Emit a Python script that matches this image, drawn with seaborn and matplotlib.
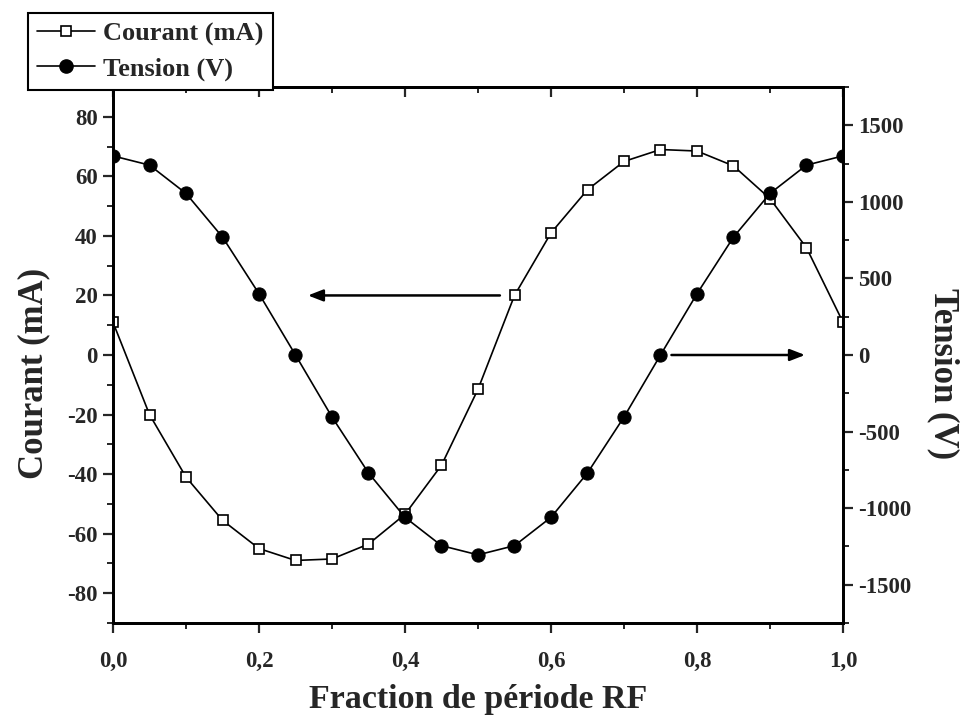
import numpy as np
import pandas as pd
import matplotlib
matplotlib.use("Agg")
import matplotlib.pyplot as plt
from matplotlib.ticker import MultipleLocator, FuncFormatter
from matplotlib.lines import Line2D
import seaborn as sns

# ---- data ----
fraction = [0.00, 0.05, 0.10, 0.15, 0.20, 0.25, 0.30, 0.35, 0.40, 0.45, 0.50,
            0.55, 0.60, 0.65, 0.70, 0.75, 0.80, 0.85, 0.90, 0.95, 1.00]
courant_mA = [11, -20, -41, -55.5, -65, -69, -68.5, -63.5, -53.5, -37, -11.5,
              20, 41, 55.5, 65, 69, 68.5, 63.5, 52.5, 36, 11]
tension_V = [1300, 1240, 1055, 770, 400, 0, -405, -770, -1060, -1245, -1305,
             -1245, -1060, -770, -405, 0, 400, 770, 1055, 1240, 1300]
series_labels = ["Courant (mA)", "Tension (V)"]
x_label = "Fraction de période RF"
y_left_label = "Courant (mA)"
y_right_label = "Tension (V)"

df = pd.DataFrame({"frac": fraction, "courant": courant_mA, "tension": tension_V})

sns.set_style("ticks")
plt.rcParams["font.family"] = ["Liberation Serif", "DejaVu Serif"]
plt.rcParams["font.weight"] = "bold"
plt.rcParams["axes.unicode_minus"] = False

fig = plt.figure(figsize=(9.62, 7.2), dpi=100)
ax = fig.add_axes([113/962, 1-623/720, (843-113)/962, (623-87)/720])
ax2 = ax.twinx()

lw = 1.2
sns.lineplot(data=df, x="frac", y="courant", ax=ax, color="black", lw=lw,
             marker="s", markersize=7.5, markerfacecolor="white",
             markeredgecolor="black", markeredgewidth=1.2, legend=False)
sns.lineplot(data=df, x="frac", y="tension", ax=ax2, color="black", lw=lw,
             marker="o", markersize=9.5, markerfacecolor="black",
             markeredgecolor="black", legend=False)

ax.set_xlim(0, 1)
ax.set_ylim(-90, 90)
ax2.set_ylim(-1750, 1750)

comma = FuncFormatter(lambda v, p: f"{v:.1f}".replace(".", ","))
ax.xaxis.set_major_locator(MultipleLocator(0.2))
ax.xaxis.set_minor_locator(MultipleLocator(0.1))
ax.xaxis.set_major_formatter(comma)
ax.yaxis.set_major_locator(MultipleLocator(20))
ax.yaxis.set_minor_locator(MultipleLocator(10))
ax.yaxis.set_major_formatter(FuncFormatter(lambda v, p: f"{int(round(v))}"))
ax2.yaxis.set_major_locator(MultipleLocator(500))
ax2.yaxis.set_minor_locator(MultipleLocator(250))
ax2.yaxis.set_major_formatter(FuncFormatter(lambda v, p: f"{int(round(v))}"))

tick_fs = 16.5
ax.tick_params(axis="x", which="both", direction="out", bottom=True, top=False,
               labelsize=tick_fs, pad=13)
ax.tick_params(axis="x", which="major", length=7, width=1.6)
ax.tick_params(axis="x", which="minor", length=4, width=1.4)
ax.tick_params(axis="y", which="both", direction="out", left=True, right=False,
               labelsize=tick_fs, pad=4)
ax.tick_params(axis="y", which="major", length=7, width=1.6)
ax.tick_params(axis="y", which="minor", length=4, width=1.4)
ax2.tick_params(axis="y", which="both", direction="out", right=True,
                labelsize=tick_fs, pad=4)
ax2.tick_params(axis="y", which="major", length=7, width=1.6)
ax2.tick_params(axis="y", which="minor", length=4, width=1.4)

# top inward ticks
sec = ax.secondary_xaxis("top")
sec.xaxis.set_major_locator(MultipleLocator(0.2))
sec.xaxis.set_minor_locator(MultipleLocator(0.1))
sec.tick_params(axis="x", which="both", direction="in", labeltop=False)
sec.tick_params(axis="x", which="major", length=7, width=1.6)
sec.tick_params(axis="x", which="minor", length=4, width=1.4)
sec.spines["top"].set_linewidth(2)

for a in (ax, ax2):
    for s in a.spines.values():
        s.set_linewidth(2)
        s.set_color("black")

for lab in ax.get_xticklabels() + ax.get_yticklabels() + ax2.get_yticklabels():
    lab.set_fontweight("bold")

ax.set_xlabel(x_label, fontsize=24.5, fontweight="bold", va="center")
ax.xaxis.set_label_coords(0.5, -0.142)
ax.set_ylabel(y_left_label, fontsize=25, fontweight="bold", va="center")
ax.yaxis.set_label_coords(-0.109, 0.465)
ax2.set_ylabel(y_right_label, fontsize=25, fontweight="bold", rotation=270,
               va="center")
ax2.yaxis.set_label_coords(1.137, 0.465)

arrow = dict(arrowstyle="-|>,head_length=0.9,head_width=0.35", color="black",
             lw=1.8, shrinkA=0, shrinkB=0)
ax.annotate("", xy=(0.267, 20), xytext=(0.53, 20), arrowprops=arrow)
ax2.annotate("", xy=(0.948, 0), xytext=(0.765, 0), arrowprops=arrow)

handles = [
    Line2D([], [], color="black", lw=lw, marker="s", markersize=7,
           markerfacecolor="white", markeredgecolor="black", markeredgewidth=1.2),
    Line2D([], [], color="black", lw=lw, marker="o", markersize=9.5,
           markerfacecolor="black", markeredgecolor="black"),
]
leg = fig.legend(handles, series_labels, loc="upper left",
                 bbox_to_anchor=(28/962, 1-13/720), borderaxespad=0,
                 frameon=True, fancybox=False, framealpha=1, edgecolor="black",
                 prop={"size": 19, "weight": "bold"}, handlelength=2.2,
                 handletextpad=0.3, borderpad=0.35, labelspacing=0.42)
leg.get_frame().set_linewidth(1.5)

fig.savefig("out.png", dpi=100)
